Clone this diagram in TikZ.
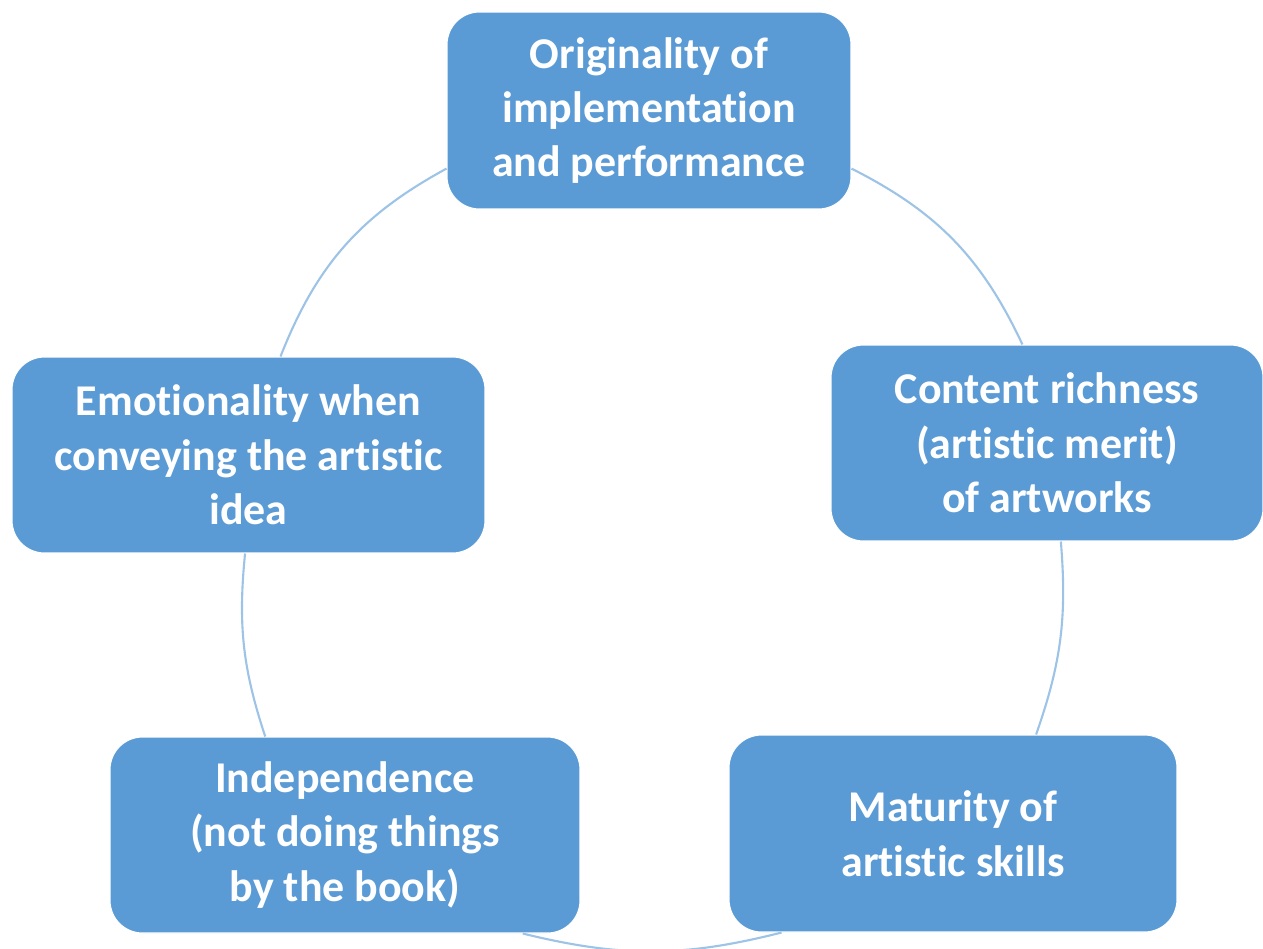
\documentclass[tikz,border=0pt]{standalone}
\usepackage{fontspec}
\setmainfont{Carlito}[Ligatures=NoCommon]
\usepackage{tikz}
\definecolor{boxblue}{RGB}{91,155,213}
\definecolor{arcblue}{RGB}{157,195,230}

\begin{document}
\begin{tikzpicture}[x=0.02cm,y=-0.02cm,
    crit/.style={rectangle,rounded corners=0.65cm,fill=boxblue,draw=white,line width=0.6pt,
      text=white,align=center,inner sep=0pt,font=\fontsize{25}{31}\selectfont\bfseries},
    ring/.style={draw=arcblue,line width=1.2pt}]
           \useasboundingbox (0,0) rectangle (1263,948);
           \clip (0,0) rectangle (1263,948);
           \node at (649,110.5) [crit,minimum width=8.08cm,minimum height=3.94cm] (orig) {Originality of\\implementation\\and performance};
           \node at (1047,443) [crit,minimum width=8.64cm,minimum height=3.92cm] (cont) {Content richness\\(artistic merit)\\of artworks};
           \node at (953,833.5) [crit,minimum width=8.96cm,minimum height=3.94cm] (matur) {Maturity of\\artistic skills};
           \node at (345,835) [crit,minimum width=9.4cm,minimum height=3.92cm] (indep) {Independence\\(not doing things\\by the book)};
           \node at (248.5,455) [crit,minimum width=9.46cm,minimum height=3.92cm] (emo) {Emotionality when\\conveying the artistic\\idea};
           % the ring, counterclockwise
           \draw[ring] (orig.196) to [bend right=20] (emo.72);
           \draw[ring] (emo.268) to [bend right=12] (indep.129);
           \draw[ring] (indep.331) to [bend right=14] (matur.210);
           \draw[ring] (matur.50) to [bend right=12] (cont.278);
           \draw[ring] (cont.104) to [bend right=19] (orig.344);
\end{tikzpicture}
\end{document}
